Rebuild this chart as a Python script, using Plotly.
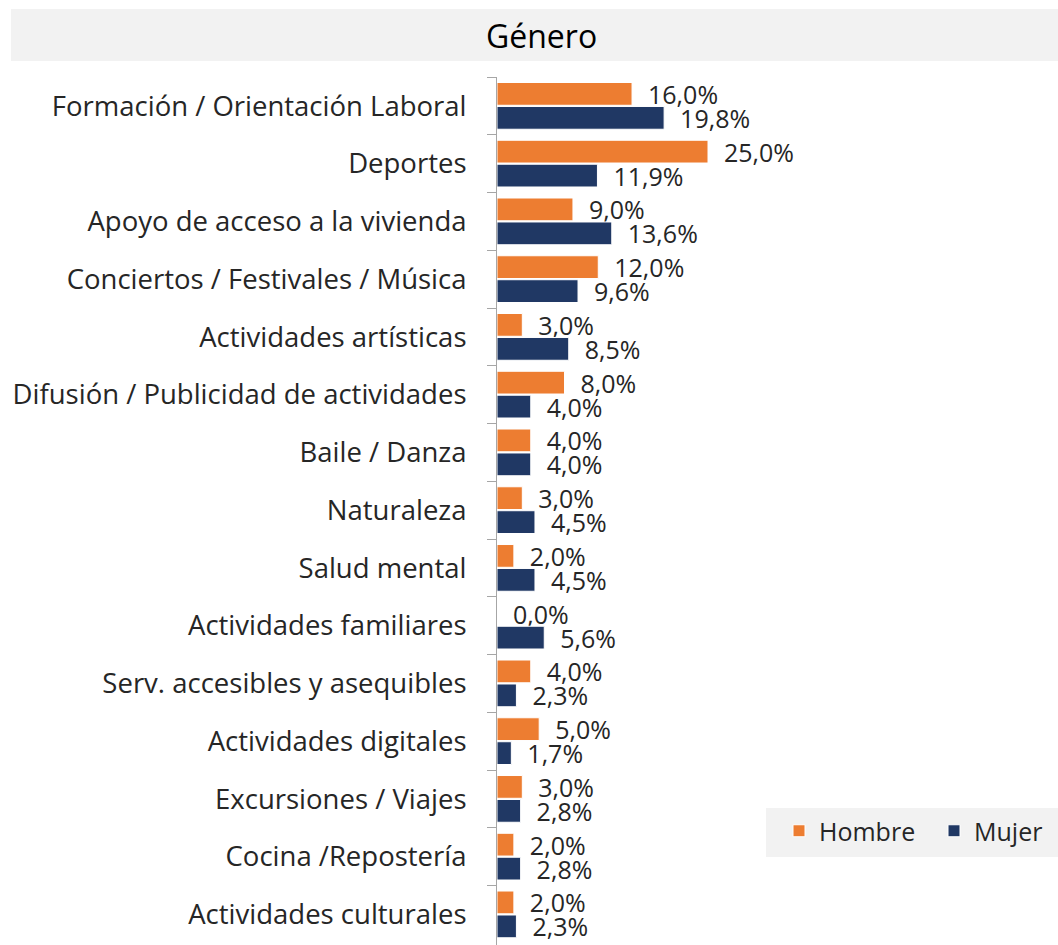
import plotly.graph_objects as go

categories = [
    "Formación / Orientación Laboral",
    "Deportes",
    "Apoyo de acceso a la vivienda",
    "Conciertos / Festivales / Música",
    "Actividades artísticas",
    "Difusión / Publicidad de actividades",
    "Baile / Danza",
    "Naturaleza",
    "Salud mental",
    "Actividades familiares",
    "Serv. accesibles y asequibles",
    "Actividades digitales",
    "Excursiones / Viajes",
    "Cocina /Repostería",
    "Actividades culturales",
]
hombre = [16.0, 25.0, 9.0, 12.0, 3.0, 8.0, 4.0, 3.0, 2.0, 0.0, 4.0, 5.0, 3.0, 2.0, 2.0]
mujer = [19.8, 11.9, 13.6, 9.6, 8.5, 4.0, 4.0, 4.5, 4.5, 5.6, 2.3, 1.7, 2.8, 2.8, 2.3]

def fmt(v):
    return "  " + f"{v:.1f}%".replace(".", ",")

W, H = 1058, 945
L, T, B, R = 497, 77, 0, 0
pw, ph = W - L - R, H - T - B
FONT = "Open Sans"
TXT = "#262626"

def px(x):
    return (x - L) / pw

def py(y):
    return (H - y) / ph

fig = go.Figure()
fig.add_trace(go.Bar(
    y=categories, x=hombre, orientation="h", name="Hombre",
    marker=dict(color="#ED7D31", line=dict(color="white", width=1)),
    text=[fmt(v) for v in hombre], textposition="outside", cliponaxis=False,
    constraintext="none",
    textfont=dict(size=25, color=TXT, family=FONT),
))
fig.add_trace(go.Bar(
    y=categories, x=mujer, orientation="h", name="Mujer",
    marker=dict(color="#203864", line=dict(color="white", width=1)),
    text=[fmt(v) for v in mujer], textposition="outside", cliponaxis=False,
    constraintext="none",
    textfont=dict(size=25, color=TXT, family=FONT),
))

n = len(categories)
fig.update_layout(
    width=W, height=H,
    margin=dict(l=L, r=R, t=T, b=B, autoexpand=False),
    paper_bgcolor="white", plot_bgcolor="white",
    barmode="group", bargap=0.17, bargroupgap=0.05,
    font=dict(family=FONT, color=TXT),
    showlegend=True,
    legend=dict(
        orientation="h", x=px(779), xanchor="left", y=py(808), yanchor="top",
        bgcolor="rgba(0,0,0,0)", borderwidth=0,
        font=dict(size=25, color=TXT, family=FONT),
        traceorder="normal", entrywidth=110,
    ),
    xaxis=dict(range=[0, pw / 8.44], visible=False, showgrid=False),
    yaxis=dict(
        categoryorder="array", categoryarray=categories,
        range=[n - 0.5 + 0.03, -0.5],
        showline=True, linecolor="#A6A6A6", linewidth=1,
        ticks="outside", tickson="boundaries", ticklen=9, tickcolor="#A6A6A6",
        ticklabelstandoff=24,
        tickfont=dict(size=27.5, color=TXT, family=FONT),
        showgrid=False,
    ),
    shapes=[
        dict(
            type="rect", xref="paper", yref="paper",
            x0=px(11), x1=1.0, y0=py(61), y1=py(9),
            fillcolor="#F2F2F2", line=dict(width=0), layer="below",
        ),
        dict(
            type="rect", xref="paper", yref="paper",
            x0=px(766), x1=1.0, y0=py(857), y1=py(808),
            fillcolor="#F2F2F2", line=dict(width=0), layer="below",
        ),
    ],
    annotations=[dict(
        text="Género", xref="paper", yref="paper",
        x=px(541), y=py(35), xanchor="center", yanchor="middle",
        showarrow=False, font=dict(size=32, color="black", family=FONT),
    )],
)

fig.write_html(
    "out.html",
    config={"displayModeBar": False},
    post_script="document.body.style.margin='0';document.body.style.overflow='hidden';",
)
